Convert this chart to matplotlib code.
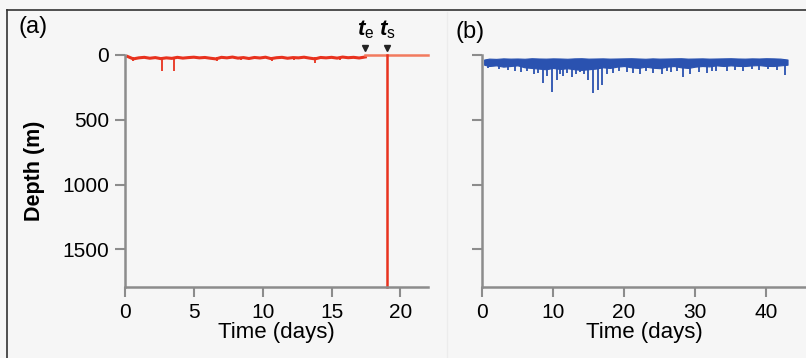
import matplotlib.pyplot as plt
from matplotlib.lines import Line2D

plt.rcParams['font.family'] = ['Liberation Sans', 'DejaVu Sans']
plt.rcParams['mathtext.fontset'] = 'custom'
plt.rcParams['mathtext.it'] = 'Liberation Sans:italic:bold'
plt.rcParams['mathtext.rm'] = 'Liberation Sans'

RED = '#e8321e'
ORANGE = '#f27a5e'
BLUE = '#2a52b0'
AXIS = '#8c8c8c'

# ---- panel (a): shallow dives before the deep descent ----
a_time = [0.2, 0.6, 1.0, 1.4, 1.8, 2.2, 2.6, 3.0, 3.4, 3.8, 4.2, 4.6, 5.0, 5.4,
          5.8, 6.2, 6.6, 7.0, 7.4, 7.8, 8.2, 8.6, 9.0, 9.4, 9.8, 10.2, 10.6,
          11.0, 11.4, 11.8, 12.2, 12.6, 13.0, 13.4, 13.8, 14.2, 14.6, 15.0,
          15.4, 15.8, 16.2, 16.6, 17.0, 17.45]
a_depth = [12, 30, 22, 18, 25, 20, 28, 22, 26, 18, 24, 20, 17, 22, 19, 25, 30,
           18, 22, 16, 24, 20, 27, 19, 23, 17, 28, 21, 18, 25, 20, 22, 17, 24,
           30, 19, 22, 18, 24, 16, 21, 18, 23, 15]
a_spike_t = [0.6, 2.67, 3.56, 6.7, 8.4, 10.7, 12.3, 13.8, 15.6]
a_spike_d = [50, 124, 124, 50, 40, 45, 38, 65, 35]
t_e, t_s = 17.45, 19.05
a_end, a_max_depth = 22.0, 1790

# ---- panel (b): 43 days of shallow diving ----
b_time = [0.3, 1, 2, 3, 4, 5, 6, 7, 8, 9, 10, 11, 12, 13, 14, 15, 16, 17, 18,
          19, 20, 21, 22, 23, 24, 25, 26, 27, 28, 29, 30, 31, 32, 33, 34, 35,
          36, 37, 38, 39, 40, 41, 42, 43]
b_top = [35, 28, 30, 26, 28, 27, 29, 25, 27, 28, 26, 27, 29, 26, 25, 28, 27,
         26, 28, 27, 26, 25, 27, 29, 26, 28, 27, 26, 25, 28, 27, 26, 28, 27,
         26, 25, 27, 28, 26, 27, 25, 26, 28, 35]
b_bottom = [75, 85, 80, 90, 85, 80, 95, 100, 105, 110, 100, 108, 102, 110,
            115, 110, 105, 95, 100, 90, 85, 95, 100, 90, 98, 102, 90,
            85, 95, 100, 90, 85, 88, 80, 85, 80, 84, 85, 80, 78, 84, 85, 80, 75]
b_spike_t = [0.9, 2.4, 3.7, 4.6, 5.5, 6.4, 7.3, 7.9, 8.6, 9.2, 9.8, 10.5, 11.0,
             11.4, 12.0, 12.6, 13.2, 13.8, 14.4, 14.9, 15.6, 16.3, 16.9, 17.6,
             18.5, 19.3, 20.4, 21.2, 22.3, 23.1, 24.1, 25.3, 26.0, 26.6, 27.5,
             28.3, 29.3, 30.5, 31.6, 32.4, 33.0, 34.5, 35.6, 36.8, 38.0, 39.0,
             40.3, 41.5, 42.7]
b_spike_d = [100, 110, 115, 120, 130, 125, 150, 140, 215, 160, 285, 195, 150,
             160, 140, 167, 150, 135, 150, 195, 295, 270, 230, 150, 140, 125,
             130, 140, 150, 125, 140, 150, 120, 135, 125, 170, 150, 130, 140,
             120, 120, 125, 115, 120, 110, 115, 110, 112, 155]

fig = plt.figure(figsize=(8.06, 3.58), dpi=100, facecolor='#f6f6f6')

# frame lines of the figure
fig.add_artist(Line2D([7 / 806, 1], [1 - 10 / 358, 1 - 10 / 358], color='#333333', lw=1.2))
fig.add_artist(Line2D([7 / 806, 7 / 806], [0, 1 - 10 / 358], color='#333333', lw=1.2))
fig.add_artist(Line2D([447 / 806, 447 / 806], [0, 1 - 12 / 358], color='#ececec', lw=1.0))

bottom, height = 1 - 287 / 358, (287 - 55) / 358
ax1 = fig.add_axes([125 / 806, bottom, (428 - 125) / 806, height])
ax2 = fig.add_axes([482 / 806, bottom, (806 - 482) / 806, height])

for ax in (ax1, ax2):
    ax.set_facecolor('none')
    for s in ('top', 'right'):
        ax.spines[s].set_visible(False)
    for s in ('left', 'bottom'):
        ax.spines[s].set_color(AXIS)
        ax.spines[s].set_linewidth(1.8)
    ax.tick_params(direction='out', length=7.5, width=1.5, color=AXIS,
                   labelsize=15, pad=4)
    ax.set_ylim(a_max_depth, 0)
    ax.set_yticks([0, 500, 1000, 1500])
    ax.set_xlabel('Time (days)', fontsize=16, labelpad=0)

# panel (a)
ax1.set_xlim(0, a_end)
ax1.set_xticks([0, 5, 10, 15, 20])
ax1.set_ylabel('Depth (m)', fontsize=15.5, fontweight='bold', labelpad=12)
ax1.vlines(a_spike_t, 15, a_spike_d, color=RED, lw=1.3)
ax1.plot(a_time, a_depth, color=RED, lw=2.2, clip_on=False)
ax1.plot([t_e, a_end], [0, 0], color=ORANGE, lw=1.8, clip_on=False)
ax1.plot([t_s, t_s], [0, a_max_depth], color=RED, lw=1.8, clip_on=False)
ax1.plot([t_e, t_s], [-55, -55], 'v', color='#222222', ms=4, clip_on=False)
ax1.text(t_e, -110, r'$t_{\mathrm{e}}$', fontsize=16, ha='center', va='bottom')
ax1.text(t_s, -110, r'$t_{\mathrm{s}}$', fontsize=16, ha='center', va='bottom')

# panel (b)
ax2.set_xlim(0, 45.6)
ax2.set_xticks([0, 10, 20, 30, 40])
ax2.set_yticklabels([])
ax2.fill_between(b_time, b_top, b_bottom, color=BLUE, lw=0.8)
ax2.vlines(b_spike_t, 60, b_spike_d, color=BLUE, lw=1.3)

fig.text(19 / 806, 1 - 27 / 358, '(a)', fontsize=17, ha='left', va='center')
fig.text(455 / 806, 1 - 32 / 358, '(b)', fontsize=17, ha='left', va='center')

fig.savefig('out.png', dpi=100, facecolor=fig.get_facecolor())
